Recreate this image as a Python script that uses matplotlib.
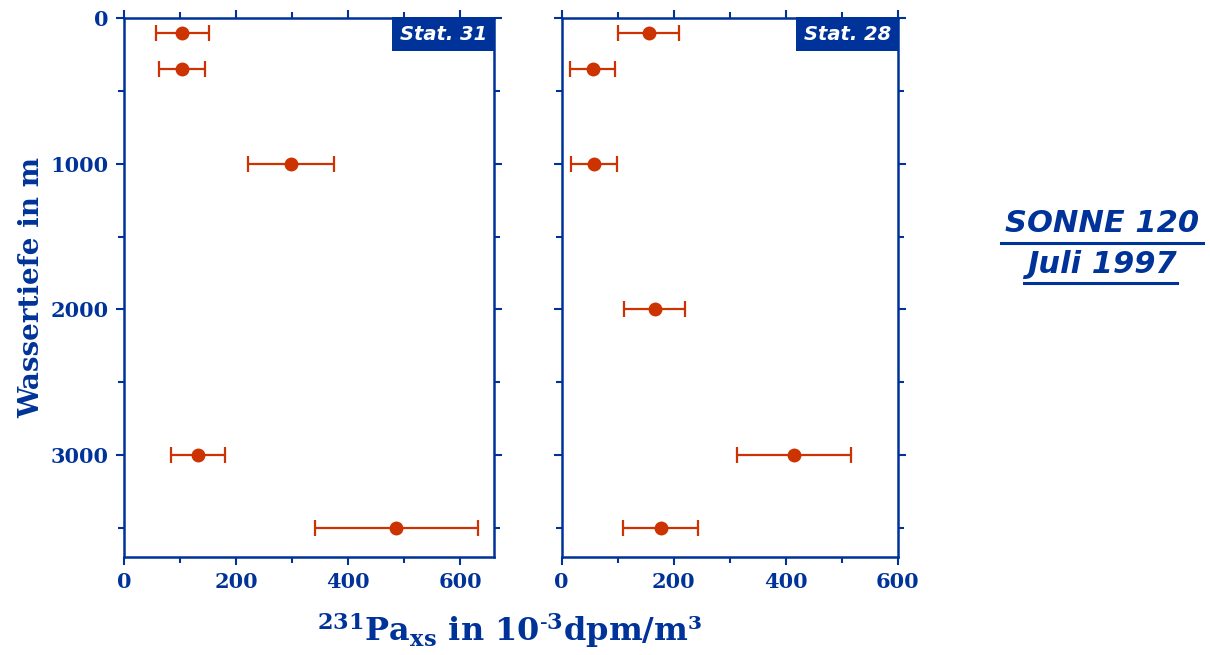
import matplotlib
matplotlib.use("Agg")
import matplotlib.pyplot as plt
from matplotlib.ticker import MultipleLocator
from matplotlib.lines import Line2D

# ---- data ----
depth_31 = [100, 350, 1000, 3000, 3500]
pa_31 = [104, 104, 298, 132, 486]
err_31 = [47, 41, 76, 49, 146]

depth_28 = [100, 350, 1000, 2000, 3000, 3500]
pa_28 = [155, 55, 58, 166, 415, 177]
err_28 = [54, 41, 41, 55, 102, 67]

station_labels = ["Stat. 31", "Stat. 28"]
xlims = [(0, 660), (0, 600)]
x_ticks = [0, 200, 400, 600]
y_ticks = [0, 1000, 2000, 3000]

BLUE = "#003399"
RED = "#cc3300"

fig = plt.figure(figsize=(12.1, 6.55), dpi=100)
W, H = 1210, 655
ax1 = fig.add_axes([124 / W, 1 - 557 / H, 370 / W, 539 / H])
ax2 = fig.add_axes([561.7 / W, 1 - 557 / H, 336 / W, 539 / H])

serif = "DejaVu Serif"
sans = "DejaVu Sans"

for i, (ax, d, v, e) in enumerate([(ax1, depth_31, pa_31, err_31),
                                    (ax2, depth_28, pa_28, err_28)]):
    ax.errorbar(v, d, xerr=e, fmt="o", color=RED, ecolor=RED, ms=9,
                elinewidth=1.6, capsize=5.5, capthick=1.6, zorder=3)
    ax.set_xlim(*xlims[i])
    ax.set_ylim(3700, 0)
    for sp in ax.spines.values():
        sp.set_color(BLUE)
        sp.set_linewidth(1.8)
    ax.xaxis.set_minor_locator(MultipleLocator(100))
    ax.yaxis.set_minor_locator(MultipleLocator(500))
    ax.set_xticks(x_ticks)
    ax.set_yticks(y_ticks)
    ax.tick_params(axis="both", which="both", direction="out", color=BLUE,
                   width=1.5, labelcolor=BLUE, top=True, right=True)
    ax.tick_params(axis="both", which="major", length=6, labelsize=15, pad=5)
    ax.tick_params(axis="both", which="minor", length=4)
    for lab in ax.get_xticklabels() + ax.get_yticklabels():
        lab.set_fontfamily(serif)
        lab.set_fontweight("bold")
    if i == 1:
        ax.tick_params(axis="y", labelleft=False)
    ax.annotate(station_labels[i], xy=(1, 1), xycoords="axes fraction",
                xytext=(-5.0, -4.8), textcoords="offset points",
                ha="right", va="top", color="white", family=sans,
                fontsize=14, fontweight="bold", fontstyle="italic",
                bbox=dict(boxstyle="square,pad=0.4", facecolor=BLUE, edgecolor="none"),
                zorder=5)

ax1.set_ylabel("Wassertiefe in m", fontsize=20, fontweight="bold",
               family=serif, color=BLUE, labelpad=4)

plt.rcParams["mathtext.fontset"] = "dejavuserif"
plt.rcParams["mathtext.default"] = "bf"
fig.text(510 / W, 1 - 630 / H,
         r"$^{231}$Pa$_{\mathbf{xs}}$ in 10$^{\mathbf{\text{-}3}}$dpm/m³",
         ha="center", va="center", fontsize=23, fontweight="bold",
         family=serif, color=BLUE)

for txt, yc, yl, x0, x1 in [("SONNE 120", 224, 243, 1001, 1203),
                             ("Juli 1997", 264, 283, 1024, 1177)]:
    fig.text(1102 / W, 1 - yc / H, txt, ha="center", va="center",
             family=sans, fontweight="bold", fontstyle="italic",
             fontsize=22, color=BLUE)
    fig.add_artist(Line2D([x0 / W, x1 / W], [1 - yl / H, 1 - yl / H],
                          color=BLUE, lw=2.2, transform=fig.transFigure))

fig.savefig("out.png", dpi=100)
